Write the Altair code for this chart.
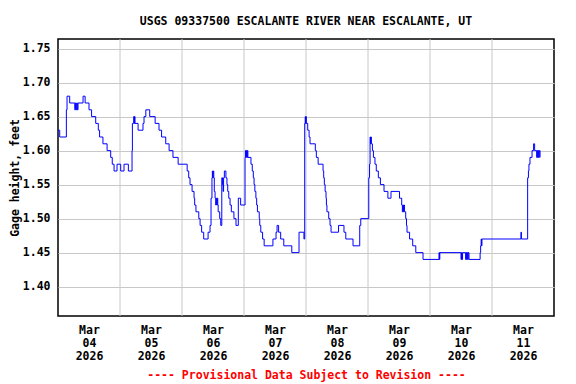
import altair as alt
import pandas as pd

# Gage height, step breakpoints: hours since 2026-03-04 00:00 and value (feet)
HOURS = [
    0.0, 0.66, 3.24, 3.5, 4.53, 6.5, 6.75, 7.0, 7.25, 7.5, 7.75, 9.7, 10.5, 12.0, 13.0,
    14.6, 15.6, 16.1, 17.4, 19.0, 20.4, 21.0, 21.7, 22.85, 24.27, 25.56, 27.24,
    28.66, 28.8, 29.3, 29.55, 29.65, 29.8, 31.0, 32.9, 33.3, 34.0, 35.5, 37.6,
    39.1, 40.1, 41.7, 43.0, 44.5, 46.5, 50.0, 50.6, 51.1, 51.9, 52.66, 52.9, 53.4,
    54.5, 55.0, 55.6, 56.4, 58.1, 58.85, 59.24, 59.6, 59.75, 59.9, 60.05, 60.3,
    60.5, 60.8, 61.05, 61.25, 61.45, 61.65, 61.85, 62.0, 62.6, 63.0, 63.4, 63.7,
    63.9, 64.1, 64.4, 65.0, 65.4, 65.7, 66.1, 66.6, 67.1, 68.1, 68.9, 69.8, 70.7,
    72.4, 72.55, 72.75, 72.9, 73.1, 73.3, 73.5, 74.7, 75.2, 75.6, 75.9, 76.2,
    76.6, 76.9, 77.2, 77.9, 78.1, 78.5, 79.2, 79.8, 83.2, 84.4, 84.8, 85.4, 86.2,
    87.4, 90.5, 93.3, 95.2, 95.5, 95.7, 95.8, 96.0, 96.1, 96.66, 97.2, 97.56,
    99.6, 100.0, 100.7, 102.6, 102.85, 103.1, 103.4, 103.75, 103.9, 104.1, 104.8,
    105.3, 105.7, 108.6, 110.7, 111.4, 114.2, 116.8, 117.2, 120.3, 120.6, 120.8,
    121.0, 121.1, 121.3, 121.7, 122.1, 122.7, 123.2, 124.0, 124.8, 126.2, 127.7,
    128.9, 132.2, 133.05, 133.3, 133.5, 133.7, 133.9, 134.1, 134.6, 134.9, 135.1,
    136.1, 137.3, 138.5, 141.3, 147.5, 147.65, 147.8, 156.0, 156.2, 156.4, 156.6,
    157.8, 158.0, 158.2, 158.4, 158.6, 158.8, 159.1, 163.4, 163.6, 163.8, 163.95,
    164.1, 179.2, 179.4, 181.8, 182.1, 182.3, 182.7, 183.5, 184.1, 184.5, 185.3,
    185.5, 185.7, 185.9, 186.1, 186.3, 186.6,
]
GAGE = [
    1.63, 1.62, 1.66, 1.68, 1.67, 1.66, 1.67, 1.66, 1.67, 1.66, 1.67, 1.68, 1.67, 1.66, 1.65,
    1.64, 1.63, 1.62, 1.61, 1.60, 1.59, 1.58, 1.57, 1.58, 1.57, 1.58, 1.57,
    1.60, 1.64, 1.65, 1.64, 1.65, 1.64, 1.63, 1.64, 1.65, 1.66, 1.65, 1.64,
    1.63, 1.62, 1.61, 1.60, 1.59, 1.58, 1.57, 1.56, 1.55, 1.54, 1.53, 1.52, 1.51,
    1.50, 1.49, 1.48, 1.47, 1.48, 1.49, 1.53, 1.56, 1.57, 1.56, 1.57, 1.56,
    1.54, 1.53, 1.52, 1.53, 1.52, 1.53, 1.52, 1.51, 1.50, 1.49, 1.56, 1.55,
    1.54, 1.56, 1.57, 1.56, 1.55, 1.54, 1.53, 1.52, 1.51, 1.50, 1.49, 1.53, 1.52,
    1.59, 1.60, 1.59, 1.60, 1.59, 1.60, 1.59, 1.58, 1.57, 1.56, 1.55, 1.54,
    1.53, 1.52, 1.51, 1.50, 1.49, 1.48, 1.47, 1.46, 1.47, 1.48, 1.49, 1.48, 1.47,
    1.46, 1.45, 1.48, 1.47, 1.64, 1.65, 1.64, 1.65, 1.64, 1.63, 1.62, 1.61,
    1.60, 1.59, 1.58, 1.57, 1.56, 1.55, 1.54, 1.53, 1.52, 1.51, 1.50,
    1.49, 1.48, 1.49, 1.48, 1.47, 1.46, 1.49, 1.50, 1.56, 1.58, 1.62,
    1.61, 1.62, 1.61, 1.60, 1.59, 1.58, 1.57, 1.56, 1.55, 1.54, 1.53,
    1.54, 1.53, 1.52, 1.51, 1.52, 1.51, 1.52, 1.51, 1.50, 1.49, 1.48,
    1.47, 1.46, 1.45, 1.44, 1.45, 1.44, 1.45, 1.44, 1.45, 1.44, 1.45,
    1.44, 1.45, 1.44, 1.45, 1.44, 1.45, 1.44, 1.45, 1.46, 1.47, 1.46,
    1.47, 1.48, 1.47, 1.56, 1.57, 1.58, 1.59, 1.60, 1.61, 1.60, 1.59,
    1.60, 1.59, 1.60, 1.59, 1.60, 1.59,
]

DAY_LABELS = ["04", "05", "06", "07", "08", "09", "10", "11"]
DAY_BOUNDARIES = [24, 48, 72, 96, 120, 144, 168]
LABEL_HOURS = [12, 36, 60, 84, 108, 132, 156, 180]
Y_TICKS = [1.40, 1.45, 1.50, 1.55, 1.60, 1.65, 1.70, 1.75]

TITLE = "USGS 09337500 ESCALANTE RIVER NEAR ESCALANTE, UT"
Y_TITLE = "Gage height, feet"
X_TITLE = "---- Provisional Data Subject to Revision ----"

FONT = "DejaVu Sans Mono"
FS = 11.5

df = pd.DataFrame({"hours": HOURS, "gage": GAGE})
grid_df = pd.DataFrame({"hours": DAY_BOUNDARIES})

x_scale = alt.Scale(domain=[0, 192], nice=False, zero=False)
y_scale = alt.Scale(domain=[1.3568, 1.7641], nice=False, zero=False)

label_expr = "['Mar', " + str(DAY_LABELS) + "[floor(datum.value / 24)], '2026']"

x_axis = alt.Axis(
    values=LABEL_HOURS, labelExpr=label_expr, grid=False, ticks=False, domain=False,
    labelFont=FONT, labelFontWeight="bold", labelFontSize=FS, labelColor="black",
    labelLineHeight=13, labelPadding=8, labelFlush=False, labelOverlap=False,
    title=X_TITLE, titleColor="red", titleFont=FONT, titleFontWeight="bold",
    titleFontSize=FS, titlePadding=8,
)
y_axis = alt.Axis(
    values=Y_TICKS, format=".2f", grid=True, gridColor="#c8c8c8", gridWidth=1,
    ticks=False, domain=False, labelFont=FONT, labelFontWeight="bold",
    labelFontSize=FS, labelColor="black", labelPadding=8, labelFlush=False,
    title=Y_TITLE, titleFont=FONT, titleFontWeight="bold", titleFontSize=FS,
    titleColor="black", titlePadding=2,
)

grid = alt.Chart(grid_df).mark_rule(color="#c8c8c8", strokeWidth=1).encode(
    x=alt.X("hours:Q", scale=x_scale, axis=x_axis)
)
line = alt.Chart(df).mark_line(interpolate="step-after", color="#0000ff", strokeWidth=1).encode(
    x=alt.X("hours:Q", scale=x_scale, axis=x_axis),
    y=alt.Y("gage:Q", scale=y_scale, axis=y_axis),
)

chart = alt.layer(grid, line).properties(
    width=496,
    height=277,
    title=alt.TitleParams(TITLE, font=FONT, fontSize=FS, fontWeight="bold",
                          anchor="middle", offset=11, color="black"),
    padding={"left": 50, "top": 31, "right": 14, "bottom": 68},
    autosize="none",
    background="white",
).configure_view(stroke="black", strokeWidth=1.5)

chart.save("out.html", embed_options={"renderer": "svg", "actions": False})
